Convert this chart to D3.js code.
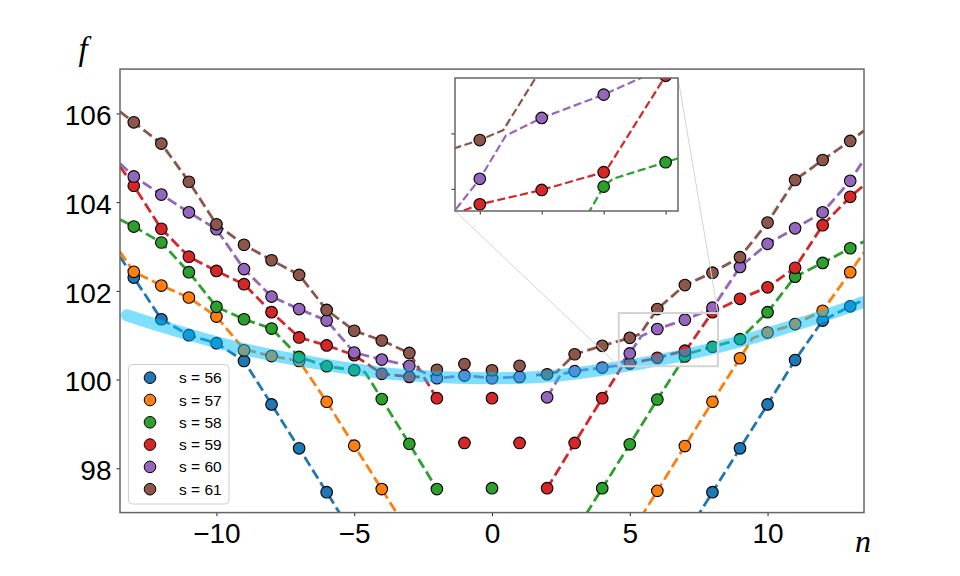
<!DOCTYPE html>
<html>
<head>
<meta charset="utf-8">
<script src="https://cdn.jsdelivr.net/npm/d3@7"></script>
<style>
  body { margin: 0; background: #fff; }
  text { font-family: "Liberation Sans", Arial, sans-serif; }
</style>
</head>
<body>
<script>
const width = 960,
    height = 576

// plot area
const plotLeft = 120, plotRight = 864, plotTop = 69.1, plotBottom = 512.6

// series labels and colours
const seriesNames = ["s = 56", "s = 57", "s = 58", "s = 59", "s = 60", "s = 61"]
const colors = ["#1f77b4", "#ff7f0e", "#2ca02c", "#d62728", "#9467bd", "#8c564b"]

// measured points (n, f)
const n56 = [-13, -12, -11, -10, -9, -8, -7, -6, 8, 9, 10, 11, 12, 13]
const f56 = [102.30, 101.36, 101.00, 100.82, 100.42, 99.44, 98.45, 97.46, 97.46, 98.45, 99.44, 100.44, 101.33, 101.65]

const n57 = [-13, -12, -11, -10, -9, -8, -7, -6, -5, -4, 6, 7, 8, 9, 10, 11, 12, 13]
const f57 = [102.43, 102.12, 101.85, 101.42, 100.66, 100.53, 100.42, 99.50, 98.51, 97.53, 97.49, 98.50, 99.50, 100.48, 101.06, 101.25, 101.55, 102.42]

const n58 = [-13, -12, -11, -10, -9, -8, -7, -6, -5, -4, -3, -2, 0, 4, 5, 6, 7, 8, 9, 10, 11, 12, 13]
const f58 = [103.45, 103.09, 102.42, 101.64, 101.36, 101.15, 100.51, 100.30, 100.21, 99.56, 98.55, 97.53, 97.55, 97.55, 98.54, 99.55, 100.52, 100.74, 100.91, 101.52, 102.32, 102.63, 102.96]

const n59 = [-13, -12, -11, -10, -9, -8, -7, -6, -5, -4, -3, -2, -1, 0, 1, 2, 3, 4, 5, 6, 7, 8, 9, 10, 11, 12, 13]
const f59 = [104.37, 103.40, 102.77, 102.45, 102.15, 101.52, 100.95, 100.77, 100.55, 100.13, 100.06, 99.58, 98.57, 99.58, 98.57, 97.55, 98.57, 99.58, 100.36, 100.49, 100.65, 101.52, 101.82, 102.08, 102.52, 103.48, 104.12]

const n60 = [-13, -12, -11, -10, -9, -8, -7, -6, -5, -4, -3, -2, -1, 0, 1, 2, 3, 4, 5, 6, 7, 8, 9, 10, 11, 12, 13]
const f60 = [104.58, 104.17, 103.77, 103.39, 102.49, 101.87, 101.59, 101.33, 100.61, 100.45, 100.31, 100.03, 100.09, 100.03, 100.06, 99.60, 100.19, 100.27, 100.59, 101.14, 101.35, 101.62, 102.54, 103.06, 103.41, 103.77, 104.48]

const n61 = [-13, -12, -11, -10, -9, -8, -7, -6, -5, -4, -3, -2, -1, 0, 1, 2, 3, 4, 5, 6, 7, 8, 9, 10, 11, 12, 13]
const f61 = [105.80, 105.32, 104.46, 103.50, 103.04, 102.69, 102.36, 101.57, 101.10, 100.88, 100.60, 100.22, 100.35, 100.21, 100.31, 100.12, 100.57, 100.76, 100.94, 101.59, 102.13, 102.41, 102.76, 103.54, 104.50, 104.95, 105.38]

// model curves (dashed), one or two branches per series
const line56 = [
    [[-13.5, 102.77], [-13, 102.30], [-12, 101.36], [-11, 101.00], [-10, 100.82], [-9, 100.42], [-8, 99.44], [-7, 98.45], [-6, 97.46], [-5.4, 96.86]],
    [[7.4, 96.86], [8, 97.46], [9, 98.45], [10, 99.44], [11, 100.44], [12, 101.33], [13, 101.65], [13.5, 101.80]]
]
const line57 = [
    [[-13.5, 102.88], [-13, 102.43], [-12, 102.12], [-11, 101.85], [-10, 101.42], [-9, 100.68], [-8, 100.53], [-7, 100.42], [-6, 99.50], [-5, 98.51], [-4, 97.53], [-3.4, 96.93]],
    [[5.4, 96.89], [6, 97.49], [7, 98.50], [8, 99.50], [9, 100.48], [9.45, 100.93], [10, 101.06], [11, 101.25], [12, 101.55], [13, 102.42], [13.5, 102.87]]
]
const line58 = [
    [[-13.5, 103.61], [-13, 103.45], [-12, 103.09], [-11, 102.42], [-10, 101.64], [-9, 101.36], [-8, 101.15], [-7, 100.51], [-6, 100.30], [-5, 100.21], [-4.6, 100.16], [-4, 99.56], [-3, 98.55], [-2, 97.53]],
    [[3.42, 96.97], [4, 97.55], [5, 98.54], [6, 99.55], [7, 100.52], [7.15, 100.59], [8, 100.74], [9, 100.91], [10, 101.52], [11, 102.32], [12, 102.63], [13, 102.96], [13.5, 103.11]]
]
const line59 = [
    [[-13.5, 104.80], [-13, 104.37], [-12, 103.40], [-11, 102.77], [-10, 102.45], [-9, 102.15], [-8, 101.52], [-7, 100.95], [-6, 100.77], [-5, 100.55], [-4, 100.13], [-3, 100.06], [-2.48, 100.06], [-2, 99.58]],
    [[2, 97.55], [3, 98.57], [4, 99.58], [4.72, 100.30], [5, 100.36], [6, 100.49], [7, 100.65], [7.08, 100.70], [8, 101.52], [9, 101.82], [10, 102.08], [11, 102.52], [12, 103.48], [13, 104.12], [13.5, 104.38]]
]
const line60 = [
    [[-13.5, 104.87], [-13, 104.58], [-12, 104.17], [-11, 103.77], [-10, 103.39], [-9, 102.49], [-8, 101.87], [-7, 101.59], [-6, 101.33], [-5, 100.61], [-4, 100.45], [-3, 100.31], [-2, 100.03], [-1, 100.09], [0, 100.03], [1, 100.06]],
    [[2, 99.60], [2.5, 100.12], [3, 100.19], [4, 100.27], [4.62, 100.32], [5, 100.59], [5.42, 100.98], [6, 101.14], [7, 101.35], [8, 101.60], [9, 102.54], [10, 103.06], [11, 103.41], [12, 103.77], [13, 104.48], [13.5, 104.96]]
]
const line61 = [
    [[-13.5, 106.04], [-13, 105.80], [-12, 105.32], [-11, 104.46], [-10, 103.50], [-9, 103.04], [-8, 102.69], [-7, 102.36], [-6, 101.57], [-5, 101.10], [-4, 100.88], [-3, 100.60], [-2.6, 100.20]],
    [[1.6, 100.10], [2, 100.12], [2.35, 100.17], [3, 100.57], [4, 100.76], [5, 100.94], [5.38, 101.03], [6, 101.59], [7, 102.13], [8, 102.41], [9, 102.76], [10, 103.54], [11, 104.50], [12, 104.95], [13, 105.38], [13.5, 105.61]]
]

// broad band
const bandN = [-13.25, -12, -10, -8, -6, -4, -2, 0, 2, 4, 6, 8, 10, 12, 13.5]
const bandF = [101.45, 101.20, 100.84, 100.55, 100.33, 100.15, 100.06, 100.03, 100.07, 100.22, 100.43, 100.70, 101.04, 101.43, 101.75]

// ticks and zoom window
const xTicks = [-10, -5, 0, 5, 10]
const yTicks = [98, 100, 102, 104, 106]
const zoomX = [4.6, 8.2]
const zoomY = [100.3, 101.5]
const insetXTicks = [5, 6, 7, 8]
const insetYTicks = [100.5, 101.0]

const pointsN = [n56, n57, n58, n59, n60, n61]
const pointsF = [f56, f57, f58, f59, f60, f61]
const curves = [line56, line57, line58, line59, line60, line61]

const svg = d3.select("body")
    .append("svg")
    .attr("width", width)
    .attr("height", height)

const x = d3.scaleLinear().domain([-13.5, 13.5]).range([plotLeft, plotRight])
const y = d3.scaleLinear().domain([97, 107]).range([plotBottom, plotTop])

const defs = svg.append("defs")
defs.append("clipPath").attr("id", "clipMain")
    .append("rect").attr("x", plotLeft).attr("y", plotTop)
    .attr("width", plotRight - plotLeft).attr("height", plotBottom - plotTop)

// draws lines + markers of all series into g with given scales
function drawSeries(g, xs, ys, lw) {
    const line = d3.line().x(d => xs(d[0])).y(d => ys(d[1]))
    curves.forEach((branches, i) => {
        g.selectAll(null)
            .data(branches)
            .join("path")
            .attr("d", line)
            .attr("fill", "none")
            .attr("stroke", colors[i])
            .attr("stroke-width", lw)
            .attr("stroke-dasharray", `${3.7 * lw},${1.6 * lw}`)
    })
    pointsN.forEach((ns, i) => {
        g.selectAll(null)
            .data(ns.map((n, j) => [n, pointsF[i][j]]))
            .join("circle")
            .attr("cx", d => xs(d[0]))
            .attr("cy", d => ys(d[1]))
            .attr("r", 5.8)
            .attr("fill", colors[i])
            .attr("stroke", "black")
            .attr("stroke-width", 1.1)
    })
}

const plot = svg.append("g").attr("clip-path", "url(#clipMain)")
drawSeries(plot, x, y, 2.8)

plot.append("path")
    .datum(bandN.map((n, i) => [n, bandF[i]]))
    .attr("d", d3.line().curve(d3.curveNatural).x(d => x(d[0])).y(d => y(d[1])))
    .attr("fill", "none")
    .attr("stroke", "#00bfff")
    .attr("stroke-width", 12)
    .attr("stroke-linecap", "round")
    .attr("opacity", 0.5)

// inset geometry
const ix = d3.scaleLinear().domain(zoomX).range([455, 678])
const iy = d3.scaleLinear().domain(zoomY).range([211, 78])

// zoom indicator + connectors
svg.append("rect")
    .attr("x", x(zoomX[0])).attr("y", y(zoomY[1]))
    .attr("width", x(zoomX[1]) - x(zoomX[0]))
    .attr("height", y(zoomY[0]) - y(zoomY[1]))
    .attr("fill", "none")
    .attr("stroke", "#d4d4d4")
    .attr("stroke-width", 2)

const connectors = [
    [[ix(zoomX[0]), iy(zoomY[0])], [x(zoomX[0]), y(zoomY[0])]],
    [[ix(zoomX[1]), iy(zoomY[1])], [x(zoomX[1]), y(zoomY[1])]]
]
svg.selectAll(null)
    .data(connectors)
    .join("line")
    .attr("x1", d => d[0][0]).attr("y1", d => d[0][1])
    .attr("x2", d => d[1][0]).attr("y2", d => d[1][1])
    .attr("stroke", "#d4d4d4")
    .attr("stroke-width", 1)

// main axes
const xAxis = svg.append("g")
    .attr("transform", `translate(0, ${plotBottom})`)
    .call(d3.axisBottom(x).tickValues(xTicks).tickSize(3.5).tickPadding(4))
const yAxis = svg.append("g")
    .attr("transform", `translate(${plotLeft}, 0)`)
    .call(d3.axisLeft(y).tickValues(yTicks).tickSize(3.5).tickPadding(5))

;[xAxis, yAxis].forEach(a => {
    a.select(".domain").remove()
    a.selectAll(".tick line").attr("stroke", "#222")
    a.selectAll(".tick text")
        .attr("fill", "black")
        .style("font-size", "28px")
        .style("font-family", "'Liberation Sans', Arial, sans-serif")
})
xAxis.selectAll(".tick text").attr("dy", "0.82em")
yAxis.selectAll(".tick text").attr("dy", "0.4em")

svg.append("rect")
    .attr("x", plotLeft).attr("y", plotTop)
    .attr("width", plotRight - plotLeft).attr("height", plotBottom - plotTop)
    .attr("fill", "none")
    .attr("stroke", "#666")
    .attr("stroke-width", 1.5)

// legend
const legend = svg.append("g")
legend.append("rect")
    .attr("x", 128.5).attr("y", 364.5)
    .attr("width", 100.5).attr("height", 139.5)
    .attr("rx", 4)
    .attr("fill", "white")
    .attr("fill-opacity", 0.8)
    .attr("stroke", "#d0d0d0")
const rows = legend.selectAll(null)
    .data(seriesNames)
    .join("g")
    .attr("transform", (d, i) => `translate(0, ${377.7 + i * 22.3})`)
rows.append("circle")
    .attr("cx", 150).attr("cy", 0).attr("r", 5.8)
    .attr("fill", (d, i) => colors[i])
    .attr("stroke", "black")
rows.append("text")
    .attr("x", 179).attr("y", 5.5)
    .style("font-size", "15.5px")
    .text(d => d)

// inset
defs.append("clipPath").attr("id", "clipInset")
    .append("rect").attr("x", 455).attr("y", 78).attr("width", 223).attr("height", 133)
svg.append("rect")
    .attr("x", 455).attr("y", 78).attr("width", 223).attr("height", 133)
    .attr("fill", "white")
const inset = svg.append("g").attr("clip-path", "url(#clipInset)")
drawSeries(inset, ix, iy, 2.2)

const ixAxis = svg.append("g")
    .attr("transform", "translate(0, 211)")
    .call(d3.axisBottom(ix).tickValues(insetXTicks).tickSize(3.5).tickFormat(""))
const iyAxis = svg.append("g")
    .attr("transform", "translate(455, 0)")
    .call(d3.axisLeft(iy).tickValues(insetYTicks).tickSize(3.5).tickFormat(""))
;[ixAxis, iyAxis].forEach(a => {
    a.select(".domain").remove()
    a.selectAll(".tick line").attr("stroke", "#222")
})
svg.append("rect")
    .attr("x", 455).attr("y", 78).attr("width", 223).attr("height", 133)
    .attr("fill", "none")
    .attr("stroke", "#666")
    .attr("stroke-width", 1.5)

// axis labels
svg.append("text")
    .attr("x", 83).attr("y", 60)
    .attr("text-anchor", "middle")
    .style("font-family", "'Liberation Serif', 'DejaVu Serif', serif")
    .style("font-style", "italic")
    .style("font-size", "33px")
    .text("f")
svg.append("text")
    .attr("x", 863).attr("y", 552)
    .attr("text-anchor", "middle")
    .style("font-family", "'Liberation Serif', 'DejaVu Serif', serif")
    .style("font-style", "italic")
    .style("font-size", "32px")
    .text("n")
</script>
</body>
</html>
